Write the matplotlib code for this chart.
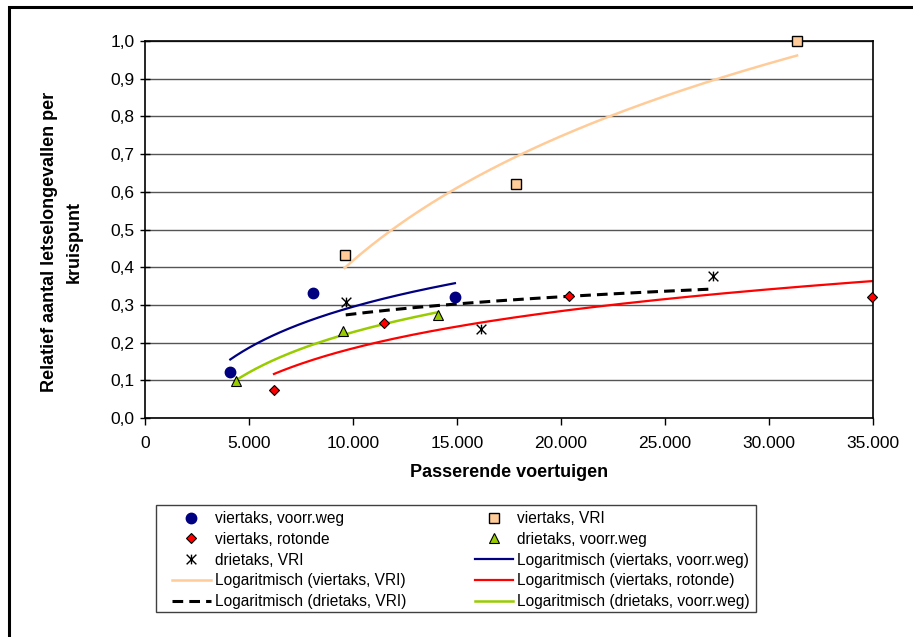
import numpy as np
import matplotlib
matplotlib.use("Agg")
from matplotlib import pyplot as plt
from matplotlib.patches import Rectangle
from matplotlib.path import Path
from matplotlib.ticker import FuncFormatter

plt.rcParams["font.family"] = ["Liberation Sans", "DejaVu Sans"]

# passerende voertuigen (x) en relatief aantal letselongevallen (y)
vw4_x = [4100, 8060, 14900]
vw4_y = [0.122, 0.331, 0.321]
vri4_x = [9600, 17850, 31350]
vri4_y = [0.433, 0.620, 1.000]
rot4_x = [6200, 11500, 20400, 34950]
rot4_y = [0.075, 0.252, 0.323, 0.321]
vw3_x = [4380, 9500, 14100]
vw3_y = [0.097, 0.230, 0.274]
vri3_x = [9650, 16150, 27300]
vri3_y = [0.309, 0.237, 0.377]

y_ticks = np.arange(0, 1.01, 0.1)
x_ticks = np.arange(0, 35001, 5000)

# Excel-achtige ster: kruis met verticale streep
star = Path(
    [(-1, -1), (1, 1), (-1, 1), (1, -1), (0, -1), (0, 1)],
    [Path.MOVETO, Path.LINETO, Path.MOVETO, Path.LINETO, Path.MOVETO, Path.LINETO],
)


def log_trend(x, y):
    # logaritmische trendlijn zoals in Excel: y = a*ln(x) + b
    a, b = np.polyfit(np.log(x), y, 1)
    xs = np.linspace(min(x), max(x), 200)
    return xs, a * np.log(xs) + b


def px(x0, y0, w, h):
    # pixelrechthoek (vanaf linksboven) -> figuurcoordinaten
    return (x0 / 913, 1 - (y0 + h) / 637, w / 913, h / 637)


fig = plt.figure(figsize=(9.13, 6.37), dpi=100)
ax = fig.add_axes(px(145, 41, 728, 377))

ax.set_xlim(0, 35000)
ax.set_ylim(0, 1.0)
ax.set_yticks(y_ticks)
ax.set_xticks(x_ticks)
ax.yaxis.set_major_formatter(FuncFormatter(lambda v, _: f"{v:.1f}".replace(".", ",")))
ax.xaxis.set_major_formatter(FuncFormatter(lambda v, _: f"{int(v):,}".replace(",", ".")))
ax.tick_params(axis="y", direction="inout", length=7, width=1, labelsize=12.5, pad=4)
ax.tick_params(axis="x", direction="out", length=5, width=1, labelsize=12.5, pad=8)
ax.grid(axis="y", color="#555555", linewidth=1)
ax.set_axisbelow(True)
for s in ax.spines.values():
    s.set_linewidth(1.2)

h_vw4, = ax.plot(vw4_x, vw4_y, "o", color="#000080", ms=7.5, mec="#000080", clip_on=False, zorder=5)
h_vri4, = ax.plot(vri4_x, vri4_y, "s", color="#FFCC99", ms=6.5, mec="black", mew=1, clip_on=False, zorder=5)
h_rot4, = ax.plot(rot4_x, rot4_y, "D", color="#FF0000", ms=5.5, mec="black", mew=0.8, clip_on=False, zorder=5)
h_vw3, = ax.plot(vw3_x, vw3_y, "^", color="#99CC00", ms=7.5, mec="black", mew=0.8, clip_on=False, zorder=5)
h_vri3, = ax.plot(vri3_x, vri3_y, ls="none", marker=star, ms=7, mfc="none", mec="black", mew=1, clip_on=False, zorder=5)

tx, ty = log_trend(vw4_x, vw4_y)
t_vw4, = ax.plot(tx, ty, color="#000080", lw=1.6)
tx, ty = log_trend(vri4_x, vri4_y)
t_vri4, = ax.plot(tx, ty, color="#FFCC99", lw=1.8)
tx, ty = log_trend(rot4_x, rot4_y)
t_rot4, = ax.plot(tx, ty, color="#FF0000", lw=1.6)
tx, ty = log_trend(vri3_x, vri3_y)
t_vri3, = ax.plot(tx, ty, color="black", lw=2.2, dashes=(3.5, 2))
tx, ty = log_trend(vw3_x, vw3_y)
t_vw3, = ax.plot(tx, ty, color="#99CC00", lw=1.8)

ax.set_xlabel("Passerende voertuigen", fontsize=13, fontweight="bold", labelpad=9)
fig.text(62 / 913, 1 - 242 / 637, "Relatief aantal letselongevallen per\nkruispunt",
         rotation=90, ha="center", va="center", multialignment="center",
         fontsize=13, fontweight="bold", linespacing=1.65)

# legenda: Excel vult rij voor rij, matplotlib kolom voor kolom
handles = [h_vw4, h_rot4, h_vri3, t_vri4, t_vri3, h_vri4, h_vw3, t_vw4, t_rot4, t_vw3]
labels = [
    "viertaks, voorr.weg", "viertaks, rotonde", "drietaks, VRI",
    "Logaritmisch (viertaks, VRI)", "Logaritmisch (drietaks, VRI)",
    "viertaks, VRI", "drietaks, voorr.weg", "Logaritmisch (viertaks, voorr.weg)",
    "Logaritmisch (viertaks, rotonde)", "Logaritmisch (drietaks, voorr.weg)",
]
fig.legend(
    handles, labels, ncol=2, mode="expand",
    bbox_to_anchor=px(172, 511, 578, 95),
    loc="upper left", borderaxespad=0, borderpad=0, fontsize=11.2, frameon=False,
    handlelength=2.5, handletextpad=0.25, labelspacing=0.37, columnspacing=1.0,
)
fig.add_artist(Rectangle(px(156, 505, 600, 107)[:2], 600 / 913, 107 / 637,
                         transform=fig.transFigure, fill=False,
                         edgecolor="#404040", linewidth=1))

fig.add_artist(Rectangle((9 / 913, -0.05), 1.0, 1 - 7 / 637 + 0.05, transform=fig.transFigure,
                         fill=False, edgecolor="black", linewidth=2.2))

fig.savefig("out.png", dpi=100, facecolor="white")
